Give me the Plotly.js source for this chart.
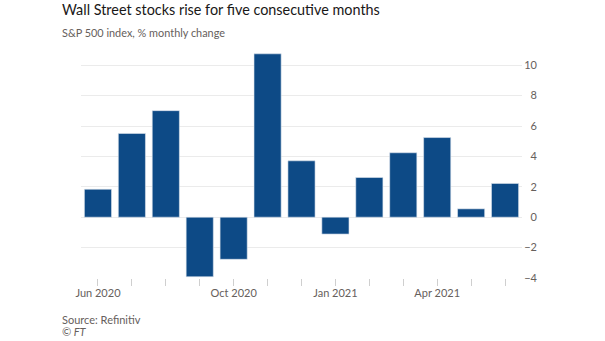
<!DOCTYPE html>
<html>
<head>
<meta charset="utf-8">
<script src="https://cdn.plot.ly/plotly-3.0.1.min.js"></script>
<style>html,body{margin:0;padding:0;background:#fff;}#chart{width:605px;height:341px;}</style>
</head>
<body>
<div id="chart"></div>
<script>
const months = ["Jun 2020","Jul 2020","Aug 2020","Sep 2020","Oct 2020","Nov 2020","Dec 2020","Jan 2021","Feb 2021","Mar 2021","Apr 2021","May 2021","Jun 2021"];
const monthlyChange = [1.84, 5.51, 7.01, -3.92, -2.77, 10.75, 3.71, -1.11, 2.61, 4.24, 5.24, 0.55, 2.22];
const xTickLabels = ["Jun 2020","","","","Oct 2020","","","Jan 2021","","","Apr 2021","",""];
const yTickValues = [-4, -2, 0, 2, 4, 6, 8, 10];

const fontFam = "Lato, Noto Sans, sans-serif";
const L = 81, R = 60, plotRight = 522;
const paperW = 605 - L - R;
const dom = (plotRight - L) / paperW;
const leftX = (60 - L) / paperW;

const trace = {
  type: "bar",
  x: months,
  y: monthlyChange,
  marker: {color: "#0d4a86", line: {color: "#dfe6ee", width: 0.6}},
  hoverinfo: "skip"
};

const layout = {
  width: 605, height: 341,
  paper_bgcolor: "#ffffff", plot_bgcolor: "#ffffff",
  margin: {l: L, r: R, t: 50, b: 63},
  showlegend: false,
  bargap: 0.2,
  font: {family: fontFam, color: "#66605c", size: 11},
  xaxis: {
    type: "category",
    domain: [0, dom],
    range: [-0.5, 12.5],
    tickmode: "array",
    tickvals: months,
    ticktext: xTickLabels,
    ticks: "outside", ticklen: 7, tickcolor: "#cfcfcf", tickwidth: 1,
    ticklabelstandoff: -2,
    showgrid: false, zeroline: false,
    showline: false,
    tickfont: {size: 11, color: "#66605c", family: fontFam},
    fixedrange: true
  },
  yaxis: {
    range: [-4, 11],
    anchor: "free", position: 1, side: "left",
    tickmode: "array", tickvals: yTickValues,
    ticks: "", ticklabelstandoff: 8,
    showgrid: true, gridcolor: "#ebebeb", gridwidth: 1,
    zeroline: true, zerolinecolor: "#ebebeb", zerolinewidth: 1,
    showline: false,
    tickfont: {size: 11, color: "#66605c", family: fontFam},
    fixedrange: true
  },
  annotations: [
    {text: "Wall Street stocks rise for five consecutive months", xref: "paper", yref: "paper", x: leftX, y: 1, yshift: 50 + 1, xanchor: "left", yanchor: "top", showarrow: false, font: {size: 14.4, color: "#1a1817", family: fontFam}},
    {text: "S&P 500 index, % monthly change", xref: "paper", yref: "paper", x: leftX, y: 1, yshift: 50 - 24, xanchor: "left", yanchor: "top", showarrow: false, font: {size: 10.9, color: "#66605c", family: fontFam}},
    {text: "Source: Refinitiv", xref: "paper", yref: "paper", x: leftX, y: 0, yshift: -(311 - 278), xanchor: "left", yanchor: "top", showarrow: false, font: {size: 11, color: "#66605c", family: fontFam}},
    {text: "<i>© FT</i>", xref: "paper", yref: "paper", x: leftX, y: 0, yshift: -(323 - 278), xanchor: "left", yanchor: "top", showarrow: false, font: {size: 11, color: "#66605c", family: fontFam}}
  ]
};

Plotly.newPlot("chart", [trace], layout, {staticPlot: true, displayModeBar: false});
</script>
</body>
</html>
